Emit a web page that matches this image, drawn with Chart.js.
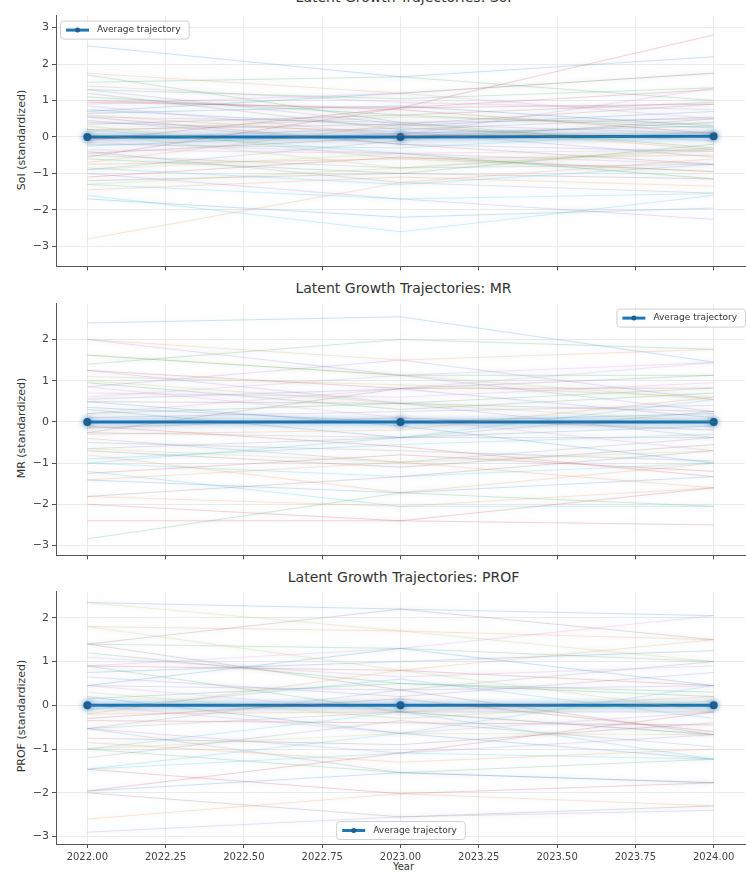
<!DOCTYPE html>
<html>
<head>
<meta charset="utf-8">
<script src="https://cdn.jsdelivr.net/npm/chart.js@4.4.1/dist/chart.umd.min.js"></script>
<style>
  html, body { margin: 0; padding: 0; background: #fff; }
  body { width: 746px; height: 873px; overflow: hidden; position: relative; font-family: "DejaVu Sans", sans-serif; }
  canvas { position: absolute; left: 0; }
  .title { position: absolute; left: 56px; width: 695px; text-align: center; font-size: 14px; color: #333; line-height: 16px; white-space: nowrap; }
  .ylab { position: absolute; font-size: 11px; color: #333; transform: rotate(-90deg); transform-origin: center; white-space: nowrap; text-align: center; width: 160px; line-height: 12px; }
  .xlab { position: absolute; left: 56px; width: 695px; text-align: center; font-size: 10px; color: #333; }
</style>
</head>
<body>
<div class="title" style="top:-11px">Latent Growth Trajectories: SoI</div>
<div class="title" style="top:280px">Latent Growth Trajectories: MR</div>
<div class="title" style="top:569px">Latent Growth Trajectories: PROF</div>
<div class="ylab" style="left:-58px; top:134px">SoI (standardized)</div>
<div class="ylab" style="left:-58px; top:422px">MR (standardized)</div>
<div class="ylab" style="left:-58px; top:710px">PROF (standardized)</div>
<div class="xlab" style="top:861px">Year</div>

<canvas id="c1" width="752" height="270" style="top:6px"></canvas>
<canvas id="c2" width="752" height="271" style="top:294px"></canvas>
<canvas id="c3" width="752" height="291" style="top:582px"></canvas>

<script>
// Data
const years = [2022, 2023, 2024];
const xTicks = [2022.00, 2022.25, 2022.50, 2022.75, 2023.00, 2023.25, 2023.50, 2023.75, 2024.00];
const yTicks = [-3, -2, -1, 0, 1, 2, 3];

// one row per person: values at 2022, 2023, 2024
const soiPaths = [
    [2.50, 1.65, 2.20], [1.75, 1.20, 1.75], [1.30, 1.05, 1.35], [0.95, 0.80, 0.90],
    [0.55, 0.40, 0.50], [0.20, 0.35, 0.90], [-0.15, -0.45, -0.35], [-0.50, -0.85, -0.75],
    [-0.90, -0.45, -1.15], [-1.30, -1.70, -1.55], [-1.70, -2.20, -1.95], [-2.80, -1.25, -0.60],
    [1.70, 0.40, -0.30], [-0.55, 0.80, 1.30], [1.30, 0.35, 0.10], [0.55, -0.20, -0.75],
    [0.90, 1.20, 0.50], [-0.90, -0.10, 0.50], [-1.30, -0.85, -0.35], [0.20, -0.45, -1.15],
    [-0.25, 0.10, 0.30], [0.60, 0.05, 0.10], [-0.60, -1.00, -0.20], [1.00, 0.75, 0.10],
    [-1.00, -1.70, -2.26], [0.35, 0.60, 0.95], [-0.35, -0.45, -0.75], [1.20, 0.20, 0.55],
    [0.10, -0.85, -0.30], [-1.60, -2.60, -1.60], [0.70, 1.20, 1.75], [-0.70, 0.35, -0.35],
    [1.50, 1.65, 1.00], [-0.10, 0.80, 2.80], [0.45, -0.20, -0.40], [-1.20, -1.00, -1.15],
    [0.85, 0.05, 1.34], [-0.40, -1.25, -1.54], [0.15, 0.55, 0.35], [-0.20, -0.30, 0.15],
    [0.75, 0.30, 0.70], [-0.75, -0.60, -0.50], [1.10, 0.60, 0.25], [-1.10, -0.55, -0.95],
    [0.40, 0.15, -0.55], [-0.45, 0.00, 0.40], [1.40, 0.95, 0.75], [-0.05, 0.25, -0.10],
    [0.30, -0.60, -0.95], [-0.85, -1.30, -0.75], [0.65, 0.85, 0.30], [-1.45, -1.10, -1.35]
];
const mrPaths = [
    [2.40, 2.55, 1.45], [2.00, 1.50, 1.76], [1.62, 1.13, 1.13], [1.25, 0.81, 0.82],
    [0.85, 1.50, 0.54], [0.49, 0.45, 0.25], [0.20, 0.81, 1.44], [-0.26, -0.38, -0.38],
    [-0.65, -0.98, -0.70], [-1.00, -1.33, -1.00], [-1.41, -1.72, -1.33], [-1.81, -2.05, -1.60],
    [-2.84, -1.72, -2.05], [-2.40, -2.40, -2.50], [1.25, 0.45, -0.38], [-0.26, 0.81, 1.13],
    [0.85, 0.10, -0.70], [-0.65, -0.38, 0.25], [1.62, 1.13, 0.54], [-1.00, -0.38, 0.54],
    [0.49, -0.10, -1.00], [-1.41, -0.98, -1.60], [0.20, 0.45, 0.82], [-0.10, -0.60, -1.33],
    [2.00, 1.13, 0.25], [-1.81, -1.33, -0.70], [0.60, 1.13, 1.44], [-0.40, -0.98, -0.38],
    [1.00, 0.45, 0.00], [-1.20, -2.05, -2.05], [0.30, -0.38, -0.10], [-0.80, -1.72, -1.00],
    [1.40, 2.00, 1.76], [-2.00, -2.40, -1.60], [0.10, 0.25, 0.40], [-0.15, 0.10, -0.20],
    [0.70, 0.60, 0.95], [-0.50, -0.70, -0.95], [1.10, 0.90, 0.60], [-0.90, -0.55, -0.30],
    [0.35, 0.00, 0.20], [-0.30, -0.20, 0.60], [0.95, 0.30, 0.70], [-1.25, -0.80, -1.20],
    [0.55, 0.80, 0.10], [-0.70, -1.10, -0.55]
];
const profPaths = [
    [2.35, 2.20, 2.05], [1.80, 1.70, 1.50], [1.40, 1.30, 1.00], [0.90, 0.80, 0.45],
    [0.45, 0.35, 0.45], [1.40, 2.20, 1.50], [0.90, 1.30, 2.05], [-0.53, -0.15, -0.15],
    [-1.00, -0.64, -0.67], [-1.46, -1.09, -1.23], [-1.96, -1.54, -1.77], [-2.60, -2.02, -2.30],
    [-1.00, -1.54, -1.23], [-1.46, -2.02, -1.77], [-0.53, -1.09, -0.67], [-2.00, -2.55, -2.30],
    [0.45, -0.15, -0.67], [-0.53, 0.35, 1.00], [1.80, 0.80, -0.15], [-1.46, -0.64, 0.45],
    [0.20, -0.64, -1.23], [-0.20, 0.80, 1.50], [0.90, -0.15, -0.67], [-1.96, -1.09, -0.15],
    [-2.90, -2.55, -2.40], [1.40, 0.35, -0.67], [0.00, -0.64, -0.15], [-0.53, -1.54, -1.77],
    [2.35, 1.70, 1.00], [-1.00, -0.15, -1.23], [0.45, 1.30, 0.45], [-0.20, -0.15, 0.20],
    [0.15, 0.50, 0.30], [-0.35, -0.40, -0.45], [0.65, 0.20, 0.75], [-0.75, -0.90, -0.40],
    [1.10, 0.65, 0.90], [-1.20, -0.35, -0.95], [0.30, -0.30, 0.10], [-0.10, 0.60, -0.30],
    [0.75, 1.00, 1.25], [-0.85, -1.30, -1.00], [1.20, 0.50, 0.20], [-0.30, 0.15, -0.60]
];

const soiAvg = [0.00, 0.00, 0.02];
const mrAvg = [0.00, 0.00, 0.00];
const profAvg = [0.00, 0.00, 0.00];

const tab10 = ["31,119,180", "255,127,14", "44,160,44", "214,39,40", "148,103,189",
               "140,86,75", "227,119,194", "127,127,127", "188,189,34", "23,190,207"];

// Legend drawn inside the plot area, matplotlib style
function insideLegend(pos) {
    return {
        id: "insideLegend",
        afterDraw(chart) {
            const ctx = chart.ctx;
            const area = chart.chartArea;
            const ds = chart.data.datasets.find(d => d.label);
            ctx.save();
            ctx.font = "9px 'DejaVu Sans'";
            const tw = ctx.measureText(ds.label).width;
            const w = tw + 45, h = 18;
            let x, y;
            if (pos === "tl") { x = area.left + 4; y = area.top + 5; }
            else if (pos === "tr") { x = 746 - w - 1; y = area.top + 5; }
            else { x = (area.left + area.right) / 2 - w / 2; y = area.bottom - h - 5; }
            ctx.fillStyle = "rgba(255,255,255,0.8)";
            ctx.strokeStyle = "#d0d0d0";
            ctx.lineWidth = 1;
            ctx.beginPath();
            ctx.roundRect(x + 0.5, y + 0.5, w, h, 3);
            ctx.fill();
            ctx.stroke();
            const my = y + h / 2 + 0.5;
            ctx.strokeStyle = "#1f77b4";
            ctx.lineWidth = 3;
            ctx.beginPath();
            ctx.moveTo(x + 6, my);
            ctx.lineTo(x + 29, my);
            ctx.stroke();
            ctx.fillStyle = "#1f5f8f";
            ctx.beginPath();
            ctx.arc(x + 17.5, my, 2.5, 0, Math.PI * 2);
            ctx.fill();
            ctx.fillStyle = "#333";
            ctx.textBaseline = "middle";
            ctx.fillText(ds.label, x + 37, my);
            ctx.restore();
        }
    };
}

// Soft glow under the average line
const avgGlow = {
    id: "avgGlow",
    beforeDatasetDraw(chart, args) {
        if (args.meta.label) {
            chart.ctx.save();
            chart.ctx.shadowColor = "rgba(31,119,180,0.7)";
            chart.ctx.shadowBlur = 6;
        }
    },
    afterDatasetDraw(chart, args) {
        if (args.meta.label) chart.ctx.restore();
    }
};

function makeChart(id, paths, avg, yMin, yMax, showX, legendPos) {
    const datasets = paths.map((p, i) => ({
        data: years.map((yr, j) => ({ x: yr, y: p[j] })),
        borderColor: `rgba(${tab10[i % 10]},0.2)`,
        borderWidth: 1,
        pointRadius: 0
    }));
    datasets.push({
        label: "Average trajectory",
        data: years.map((yr, j) => ({ x: yr, y: avg[j] })),
        borderColor: "#1f77b4",
        borderWidth: 3,
        pointRadius: 2.5,
        pointBackgroundColor: "#1f5f8f",
        pointBorderColor: "#1f5f8f"
    });

    return new Chart(document.getElementById(id), {
        type: "line",
        data: { datasets },
        plugins: [insideLegend(legendPos), avgGlow],
        options: {
            responsive: false,
            animation: false,
            devicePixelRatio: 1,
            layout: { padding: { top: 6, left: 0, right: 0, bottom: 0 } },
            plugins: { legend: { display: false }, tooltip: { enabled: false } },
            scales: {
                x: {
                    type: "linear",
                    min: 2021.9,
                    max: 2024.1,
                    afterBuildTicks: axis => { axis.ticks = xTicks.map(v => ({ value: v })); },
                    afterFit: axis => { axis.height = showX ? 29 : 8; },
                    grid: { color: "#ebebeb", tickColor: "#555", tickLength: 4 },
                    border: { color: "#555", width: 1 },
                    ticks: {
                        display: showX,
                        maxRotation: 0,
                        autoSkip: false,
                        padding: 3,
                        color: "#444",
                        font: { family: "DejaVu Sans", size: 10 },
                        callback: v => v.toFixed(2)
                    }
                },
                y: {
                    min: yMin,
                    max: yMax,
                    afterBuildTicks: axis => { axis.ticks = yTicks.filter(v => v >= yMin && v <= yMax).map(v => ({ value: v })); },
                    afterFit: axis => { axis.width = 56; },
                    grid: { color: "#ebebeb", tickColor: "#555", tickLength: 4 },
                    border: { color: "#555", width: 1 },
                    ticks: {
                        padding: 3,
                        color: "#444",
                        font: { family: "DejaVu Sans", size: 11 },
                        callback: v => v < 0 ? "\u2212" + Math.abs(v) : String(v)
                    }
                }
            }
        }
    });
}

makeChart("c1", soiPaths, soiAvg, -3.55, 3.33, false, "tl");
makeChart("c2", mrPaths, mrAvg, -3.24, 2.87, false, "tr");
makeChart("c3", profPaths, profAvg, -3.17, 2.6, true, "bc");
</script>
</body>
</html>
